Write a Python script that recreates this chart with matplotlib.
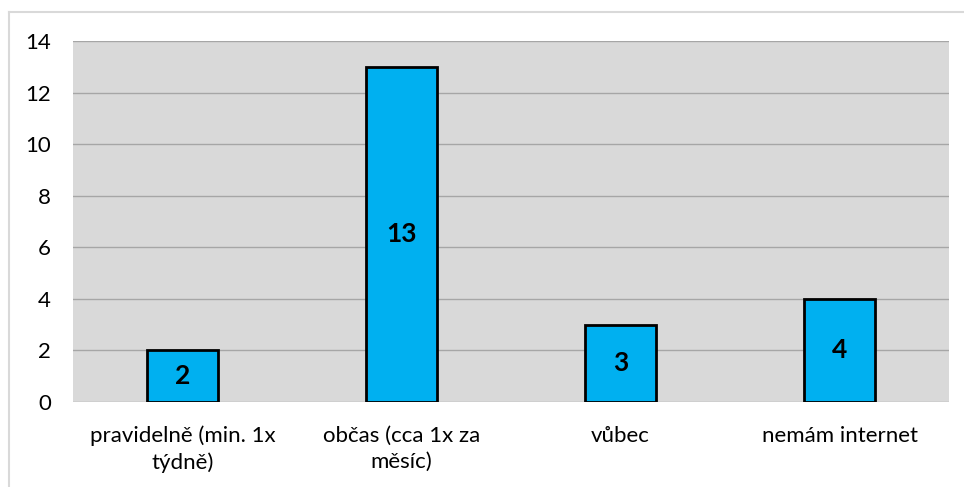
import matplotlib.pyplot as plt
from matplotlib.lines import Line2D

categories = ['pravidelně (min. 1x\ntýdně)', 'občas (cca 1x za\nměsíc)', 'vůbec', 'nemám internet']
values = [2, 13, 3, 4]
yticks = [0, 2, 4, 6, 8, 10, 12, 14]

plt.rcParams['font.family'] = ['Lato', 'DejaVu Sans']

fig = plt.figure(figsize=(9.64, 4.87), dpi=100)
ax = fig.add_axes([73/964, 1 - 402/487, 876/964, 361/487])
ax.set_facecolor('#D9D9D9')

x = range(len(categories))
bars = ax.bar(x, values, width=0.32, color='#00B0F0', edgecolor='black', linewidth=2, zorder=3)

for b, v in zip(bars, values):
    ax.text(b.get_x() + b.get_width()/2, v/2, str(v), ha='center', va='center',
            fontsize=19, fontweight='bold', color='black', zorder=4)

ax.set_xlim(-0.5, len(categories) - 0.5)
ax.set_ylim(0, 14)
ax.set_yticks(yticks)
ax.set_xticks(list(x))
ax.set_xticklabels(categories, fontsize=16, linespacing=1.4)
ax.tick_params(axis='y', length=0, pad=16, labelsize=16)
ax.tick_params(axis='x', length=0, pad=17)
ax.yaxis.grid(True, color='#A6A6A6', linewidth=1, zorder=0)
ax.set_axisbelow(True)
for s in ax.spines.values():
    s.set_visible(False)

# outer chart frame
fig.add_artist(Line2D([9/964, 1], [1 - 12/487, 1 - 12/487], color='#D9D9D9', linewidth=1.5))
fig.add_artist(Line2D([9/964, 9/964], [0, 1 - 12/487], color='#D9D9D9', linewidth=1.5))

fig.savefig('out.png', dpi=100)
